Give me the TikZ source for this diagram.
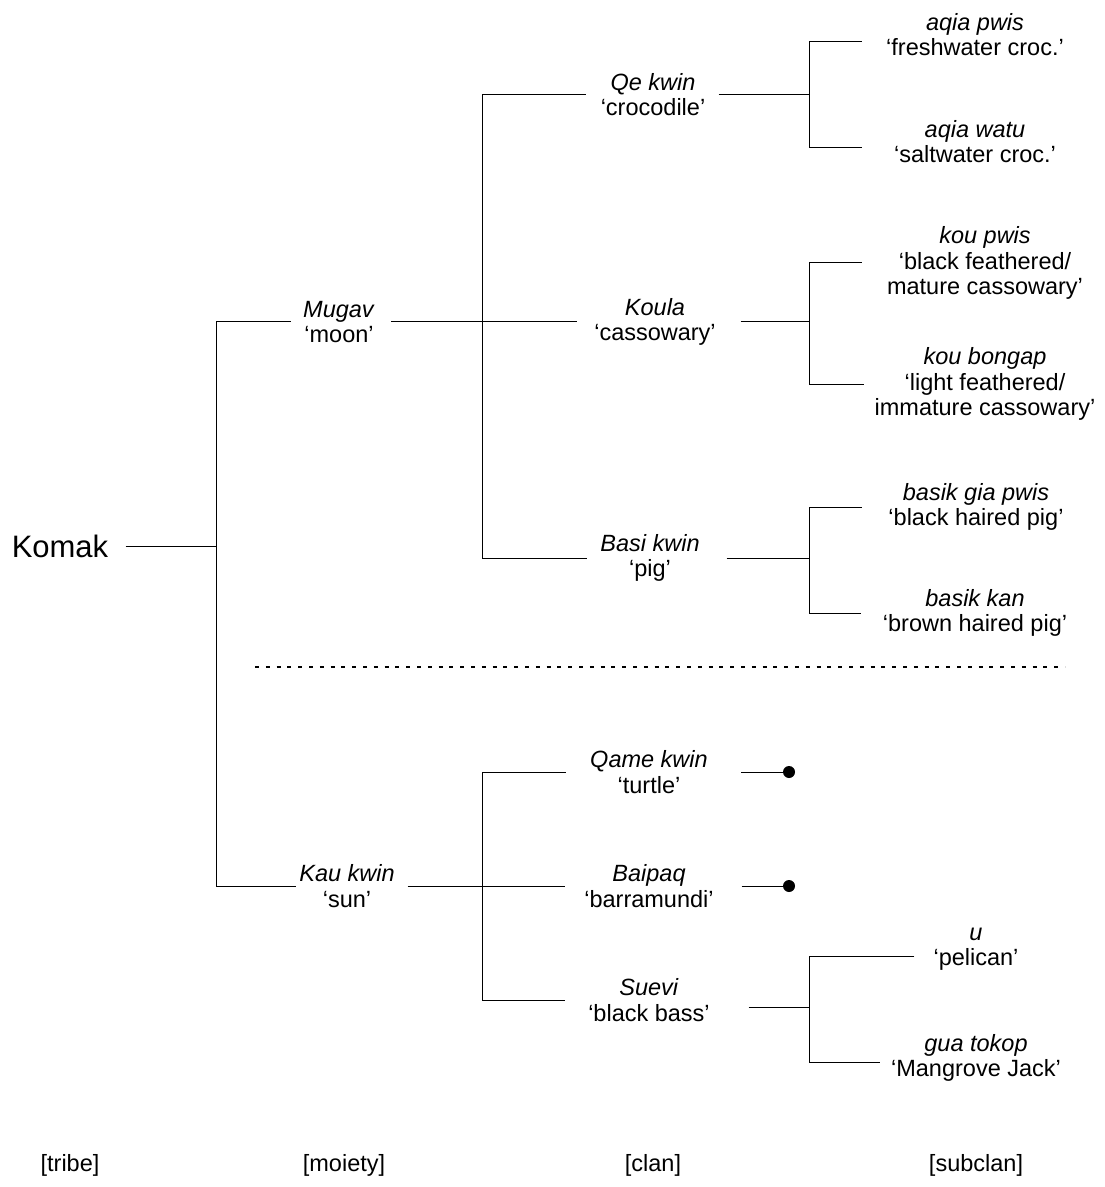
\documentclass[tikz,border=0pt]{standalone}
\usepackage{fontspec}
\setmainfont{Liberation Sans}
\begin{document}
\begin{tikzpicture}[x=0.5pt, y=-0.5pt,
  every path/.style={line width=0.5pt},
  lbl/.style={align=center, inner xsep=0pt, inner ysep=0pt,
              font=\fontsize{11.75pt}{12.6pt}\selectfont},
  tribe/.style={inner xsep=0pt, inner ysep=0pt,
              font=\fontsize{15.5pt}{18pt}\selectfont},
  level/.style={inner sep=0pt, font=\fontsize{11.75pt}{14pt}\selectfont},
  enddot/.style={circle, fill=black, inner sep=0pt, minimum size=6pt},
  sep/.style={line width=0.8pt, dash pattern=on 2pt off 3.4pt}]

\useasboundingbox (0,0) rectangle (1104,1187);

% junction columns
\coordinate (jM) at (216,0);
\coordinate (jC) at (482,0);
\coordinate (jS) at (809,0);
\coordinate (dotx) at (789,0);

% tribe
\node[tribe] (komak) at (60,546) {Komak};

% moieties
\node[lbl] (mugav) at (339,322) {\textit{Mugav}\\‘moon’};
\node[lbl] (kau)   at (347,886) {\textit{Kau kwin}\\‘sun’};

% clans
\node[lbl] (qe)     at (653,95)   {\textit{Qe kwin}\\‘crocodile’};
\node[lbl] (koula)  at (655,322)  {\textit{Koula}\\‘cassowary’};
\node[lbl] (basi)   at (650,558)  {\textit{Basi kwin}\\‘pig’};
\node[lbl] (qame)   at (649,772)  {\textit{Qame kwin}\\‘turtle’};
\node[lbl] (baipaq) at (649,886)  {\textit{Baipaq}\\‘barramundi’};
\node[lbl] (suevi)  at (649,1000) {\textit{Suevi}\\‘black bass’};

% subclans
\node[lbl] (aqiapwis)  at (975,35)   {\textit{aqia pwis}\\‘freshwater croc.’};
\node[lbl] (aqiawatu)  at (975,142)  {\textit{aqia watu}\\‘saltwater croc.’};
\node[lbl] (koupwis)   at (985,263)  {\textit{kou pwis}\\‘black feathered/\\mature cassowary’};
\node[lbl] (koubongap) at (985,384)  {\textit{kou bongap}\\‘light feathered/\\immature cassowary’};
\node[lbl] (basikgia)  at (976,507)  {\textit{basik gia pwis}\\‘black haired pig’};
\node[lbl] (basikkan)  at (975,613)  {\textit{basik kan}\\‘brown haired pig’};
\node[lbl] (u)         at (976,949)  {\textit{u}\\‘pelican’};
\node[lbl] (guatokop)  at (976,1058) {\textit{gua tokop}\\‘Mangrove Jack’};

% attachment points of the subclan forks
\coordinate (apW) at ([yshift=-3.5pt]aqiapwis.west);
\coordinate (awW) at ([yshift=-3pt]aqiawatu.west);
\coordinate (uW)  at ([yshift=-3.5pt]u.west);
\coordinate (gtW) at ([yshift=-2pt]guatokop.west);
\coordinate (suevir) at ([yshift=-3.5pt]suevi.east);

% dead-end markers
\node[enddot] (qamedot)   at (qame.east -| dotx) {};
\node[enddot] (baipaqdot) at (baipaq.east -| dotx) {};

% tribe -> moieties
\draw[shorten <=8.4pt] (komak.east) -- (jM |- komak);
\draw (jM |- mugav) -- (jM |- kau);
\draw[shorten >=5.9pt] (jM |- mugav) -- (mugav.west);
\draw[shorten >=1.2pt] (jM |- kau) -- (kau.west);

% moiety -> clans (upper)
\draw[shorten <=7.9pt] (mugav.east) -- (jC |- mugav);
\draw (jC |- qe) -- (jC |- basi);
\draw[shorten >=6.9pt] (jC |- qe) -- (qe.west);
\draw[shorten >=8.2pt] (jC |- koula) -- (koula.west);
\draw[shorten >=6.2pt] (jC |- basi) -- (basi.west);

% moiety -> clans (lower)
\draw[shorten <=6.2pt] (kau.east) -- (jC |- kau);
\draw (jC |- qame) -- (jC |- suevi);
\draw[shorten >=12.1pt] (jC |- qame) -- (qame.west);
\draw[shorten >=9.2pt] (jC |- baipaq) -- (baipaq.west);
\draw[shorten >=11.2pt] (jC |- suevi) -- (suevi.west);

% clans -> subclans
\draw[shorten <=6.4pt] (qe.east) -- (jS |- qe);
\draw[shorten <=12.1pt, shorten >=16pt]
  (apW) -- (jS |- apW) -- (jS |- awW) -- (awW);

\draw[shorten <=12.2pt] (koula.east) -- (jS |- koula);
\draw[shorten <=12.5pt, shorten >=5pt]
  (koupwis.west) -- (jS |- koupwis) -- (jS |- koubongap) -- (koubongap.west);

\draw[shorten <=13.2pt] (basi.east) -- (jS |- basi);
\draw[shorten <=13.2pt, shorten >=10.5pt]
  (basikgia.west) -- (jS |- basikgia) -- (jS |- basikkan) -- (basikkan.west);

\draw[shorten <=19.2pt] (suevir) -- (jS |- suevir);
\draw[shorten <=9.3pt, shorten >=5.5pt]
  (uW) -- (jS |- uW) -- (jS |- gtW) -- (gtW);

% clans without subclans
\draw[shorten <=16.6pt] (qame.east) -- (qamedot.center);
\draw[shorten <=13.7pt] (baipaq.east) -- (baipaqdot.center);

% moiety divider
\coordinate (sepL) at (255,667);
\coordinate (sepR) at (1065,667);
\draw[sep] (sepL) -- (sepR);

% level captions
\node[level] (ltribe)   at (70,1165)  {[tribe]};
\node[level] (lmoiety)  at (344,1165) {[moiety]};
\node[level] (lclan)    at (653,1165) {[clan]};
\node[level] (lsubclan) at (976,1165) {[subclan]};
\end{tikzpicture}
\end{document}
